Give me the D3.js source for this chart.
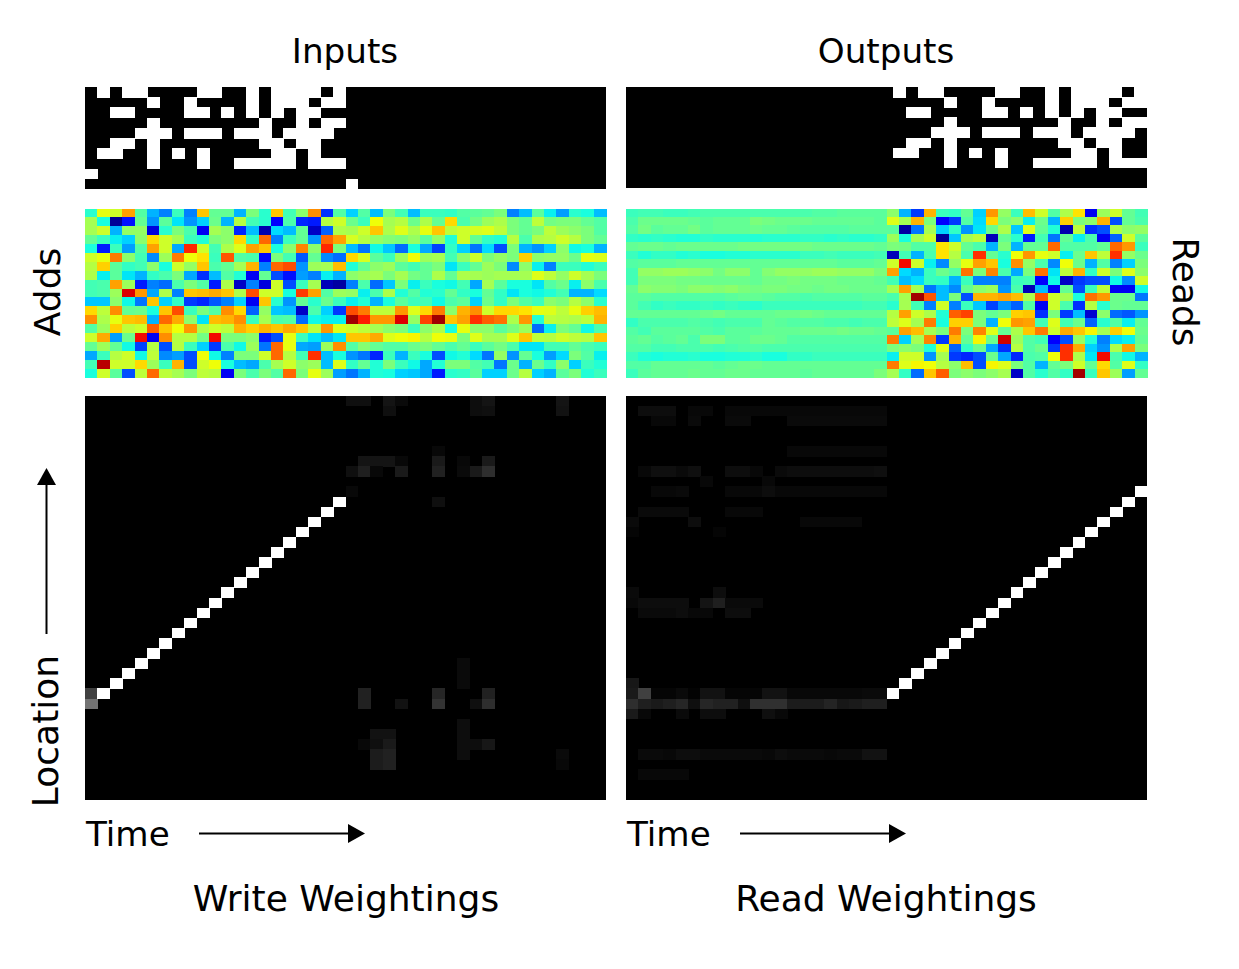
<!DOCTYPE html>
<html><head><meta charset="utf-8">
<script src="https://cdn.jsdelivr.net/npm/d3@7"></script>
<style>html,body{margin:0;padding:0;background:#fff}svg{display:block}text{font-family:"DejaVu Sans";fill:#000}</style>
</head><body><svg id="c" width="1239" height="969"></svg>
<script>
// Binary pattern: each row lists the columns that are on
const inputOn = [
 [1,3,4,9,10,13,15,16,17,18,20],
 [5,8,13,15,16,17,19,20],
 [2,3,8,9,11,13,15,17,18],
 [5,14,17,19,20],
 [4,5,6,8,9,10,12,13,14,16,17,18,19],
 [2,3,5,14,15,17,18],
 [1,2,5,7,9,15,16,18],
 [5,9,12,13,14,15,16,18,19,20],
 [0],
 [21]
];
const outputShift = 20, outputCols = 41, inputCols = 42, patternRows = 8;

const addsLeft = [
[.4,.63,.6,.74,.45,.3,.25,.42,.25,.7,.47,.47,.3,.5,.4,.7,.43,.52,.76,.17,.45],
[.55,.38,.02,.14,.47,.27,.46,.35,.27,.33,.48,.3,.57,.43,.4,.11,.44,.16,.15,.57,.6],
[.55,.6,.3,.53,.53,.08,.4,.5,.44,.1,.55,.52,.16,.31,.04,.34,.31,.47,.06,.22,.56],
[.47,.42,.36,.33,.52,.68,.6,.55,.42,.39,.5,.52,.68,.41,.8,.25,.42,.47,.27,.8,.74],
[.38,.15,.42,.28,.45,.74,.6,.29,.87,.6,.43,.56,.62,.74,.7,.38,.52,.77,.52,.87,.5],
[.6,.63,.78,.52,.43,.26,.54,.78,.64,.67,.42,.82,.45,.44,.13,.5,.43,.21,.47,.26,.23],
[.57,.69,.46,.41,.43,.52,.38,.6,.53,.7,.44,.47,.55,.72,.25,.8,.83,.27,.54,.55,.71],
[.56,.36,.46,.35,.3,.41,.44,.5,.29,.17,.31,.45,.39,.1,.47,.2,.14,.28,.25,.36,.3],
[.43,.44,.74,.54,.15,.25,.23,.44,.5,.45,.15,.56,.06,.25,.08,.6,.2,.42,.55,.05,.03],
[.43,.44,.54,.92,.75,.29,.56,.25,.7,.71,.73,.7,.56,.83,.6,.6,.38,.85,.74,.45,.54],
[.32,.32,.52,.37,.24,.7,.33,.41,.18,.16,.21,.25,.33,.1,.7,.4,.27,.47,.4,.48,.42],
[.68,.58,.76,.47,.48,.38,.7,.83,.42,.5,.45,.76,.68,.22,.53,.32,.31,.06,.44,.33,.18],
[.76,.56,.63,.7,.71,.3,.8,.73,.52,.35,.71,.72,.76,.42,.55,.44,.45,.23,.37,.36,.36],
[.45,.54,.69,.58,.6,.81,.7,.64,.75,.56,.6,.58,.72,.69,.72,.7,.73,.7,.58,.75,.62],
[.6,.73,.28,.48,.9,.1,.76,.57,.57,.49,.9,.5,.5,.52,.15,.2,.63,.42,.35,.31,.35],
[.47,.54,.47,.37,.19,.57,.2,.57,.42,.33,.18,.44,.37,.54,.24,.8,.63,.29,.28,.54,.76],
[.29,.42,.57,.6,.37,.58,.26,.28,.2,.64,.37,.25,.5,.5,.6,.8,.57,.43,.86,.31,.38],
[.43,.95,.6,.6,.68,.54,.42,.72,.2,.6,.64,.38,.31,.29,.44,.55,.6,.52,.54,.31,.62],
[.38,.6,.46,.2,.58,.8,.58,.55,.5,.58,.57,.1,.5,.44,.5,.45,.8,.5,.63,.54,.28]
];
const addsRight = [
[.33,.45,.31,.5,.43,.31,.42,.42,.41,.45,.46,.47,.5,.25,.31,.46,.36,.28,.4,.38,.31],
[.48,.42,.64,.55,.57,.48,.56,.47,.68,.44,.49,.54,.56,.5,.47,.58,.49,.5,.5,.47,.45],
[.55,.6,.7,.56,.62,.56,.63,.7,.58,.6,.61,.62,.58,.5,.47,.5,.58,.54,.52,.5,.45],
[.61,.57,.53,.51,.5,.53,.46,.53,.39,.6,.47,.41,.39,.57,.44,.56,.57,.6,.57,.5,.47],
[.31,.24,.37,.32,.23,.38,.29,.19,.41,.33,.24,.34,.2,.5,.3,.27,.33,.52,.37,.38,.3],
[.68,.61,.46,.42,.54,.64,.54,.55,.43,.52,.6,.5,.53,.5,.69,.52,.53,.53,.48,.63,.62],
[.39,.47,.52,.54,.46,.43,.47,.5,.35,.42,.47,.54,.5,.26,.52,.36,.25,.42,.42,.39,.42],
[.52,.54,.55,.5,.55,.49,.47,.56,.47,.56,.55,.54,.55,.55,.55,.62,.58,.53,.6,.55,.5],
[.25,.44,.23,.32,.5,.36,.42,.38,.37,.43,.29,.55,.46,.38,.38,.35,.45,.48,.36,.52,.44],
[.53,.36,.44,.56,.39,.45,.39,.4,.47,.41,.38,.47,.41,.35,.38,.37,.39,.43,.3,.3,.34],
[.36,.39,.3,.38,.46,.42,.43,.37,.44,.46,.33,.48,.41,.5,.45,.42,.52,.5,.57,.52,.4],
[.83,.78,.58,.58,.75,.62,.68,.78,.52,.72,.76,.6,.68,.68,.67,.63,.62,.58,.63,.69,.71],
[.97,.88,.75,.75,.92,.53,.84,.97,.7,.74,.86,.81,.79,.56,.75,.39,.58,.57,.56,.58,.72],
[.6,.58,.55,.52,.5,.42,.52,.56,.38,.63,.52,.52,.46,.5,.54,.23,.36,.5,.47,.37,.44],
[.7,.7,.73,.62,.64,.65,.57,.64,.63,.5,.62,.55,.55,.62,.7,.58,.57,.6,.58,.57,.7],
[.45,.51,.47,.45,.45,.48,.5,.47,.44,.47,.42,.46,.49,.44,.35,.35,.43,.43,.47,.44,.42],
[.27,.24,.16,.42,.3,.42,.38,.2,.37,.39,.34,.24,.53,.27,.47,.38,.28,.34,.5,.45,.36],
[.41,.47,.39,.5,.42,.37,.29,.39,.5,.5,.45,.43,.24,.48,.3,.48,.41,.52,.33,.42,.39],
[.24,.3,.39,.38,.33,.32,.29,.15,.4,.41,.46,.33,.33,.48,.57,.33,.3,.46,.5,.39,.42]
];
const readsLeft = [
[.42,.43,.43,.42,.42,.43,.44,.44,.44,.44,.44,.44,.44,.44,.44,.45,.45,.46,.46,.46,.46],
[.44,.48,.48,.48,.48,.47,.46,.47,.47,.47,.5,.49,.48,.48,.48,.47,.47,.47,.47,.47,.46],
[.45,.49,.46,.47,.47,.49,.46,.47,.47,.47,.48,.47,.47,.46,.45,.45,.45,.45,.46,.46,.46],
[.41,.4,.41,.4,.39,.39,.41,.4,.4,.4,.39,.4,.4,.4,.41,.41,.4,.41,.4,.4,.41],
[.47,.48,.48,.47,.48,.48,.48,.48,.48,.49,.49,.49,.49,.49,.49,.48,.48,.48,.48,.48,.47],
[.42,.39,.41,.41,.39,.4,.38,.38,.39,.39,.4,.4,.4,.4,.42,.42,.43,.42,.42,.42,.43],
[.45,.46,.46,.46,.47,.47,.47,.47,.47,.47,.47,.47,.47,.47,.47,.47,.47,.46,.46,.46,.47],
[.43,.53,.53,.54,.54,.53,.52,.49,.52,.52,.47,.51,.53,.53,.53,.54,.54,.53,.53,.53,.5],
[.43,.5,.5,.5,.49,.49,.48,.48,.48,.48,.47,.49,.49,.5,.49,.49,.49,.48,.48,.48,.47],
[.47,.52,.51,.51,.5,.52,.52,.51,.52,.5,.49,.5,.5,.49,.49,.48,.49,.49,.48,.48,.48],
[.46,.46,.45,.45,.45,.45,.45,.45,.46,.47,.47,.46,.45,.45,.44,.45,.45,.45,.45,.46,.46],
[.46,.43,.41,.42,.41,.41,.42,.41,.42,.41,.4,.42,.42,.42,.42,.42,.42,.42,.42,.43,.43],
[.47,.47,.47,.47,.47,.47,.48,.49,.47,.47,.47,.47,.48,.48,.49,.48,.47,.47,.47,.47,.47],
[.41,.44,.44,.44,.44,.45,.44,.43,.44,.44,.44,.47,.46,.45,.45,.45,.44,.44,.43,.44,.44],
[.45,.43,.46,.46,.46,.46,.45,.44,.46,.46,.46,.47,.47,.47,.48,.48,.48,.49,.48,.48,.47],
[.46,.47,.45,.46,.47,.44,.5,.5,.46,.46,.48,.48,.47,.45,.45,.45,.45,.45,.45,.45,.45],
[.45,.45,.43,.43,.44,.44,.44,.43,.44,.45,.45,.44,.44,.44,.44,.44,.44,.44,.44,.44,.44],
[.42,.39,.38,.39,.39,.4,.38,.38,.39,.39,.4,.38,.38,.41,.41,.42,.42,.42,.42,.42,.42],
[.45,.45,.47,.47,.47,.47,.47,.46,.47,.48,.48,.47,.47,.47,.47,.47,.47,.47,.47,.47,.47],
[.42,.46,.47,.47,.47,.48,.47,.47,.48,.48,.47,.47,.47,.47,.46,.47,.47,.47,.47,.47,.5]
];
const readsRight = [
[.52,.3,.18,.72,.42,.41,.47,.33,.75,.53,.42,.71,.6,.45,.56,.67,.1,.54,.6,.47,.43],
[.62,.55,.72,.5,.12,.18,.45,.34,.68,.5,.52,.36,.48,.3,.69,.5,.52,.72,.2,.47,.44],
[.46,.03,.24,.55,.33,.41,.27,.35,.48,.56,.32,.62,.47,.39,.04,.58,.17,.2,.56,.52,.53],
[.54,.38,.55,.6,.02,.32,.55,.58,.05,.47,.4,.15,.43,.24,.47,.36,.44,.1,.22,.6,.46],
[.5,.49,.45,.45,.67,.6,.47,.44,.3,.5,.3,.47,.47,.8,.45,.45,.45,.47,.8,.75,.42],
[.05,.43,.3,.44,.67,.57,.44,.86,.47,.4,.64,.75,.63,.6,.36,.48,.7,.58,.86,.53,.48],
[.6,.9,.6,.36,.26,.53,.63,.74,.7,.38,.76,.53,.44,.26,.64,.48,.3,.45,.25,.33,.5],
[.74,.34,.3,.42,.48,.45,.79,.5,.77,.44,.29,.5,.79,.35,.58,.72,.41,.6,.5,.62,.52],
[.43,.31,.34,.42,.41,.3,.42,.25,.25,.25,.42,.43,.12,.37,.06,.18,.2,.2,.37,.26,.6],
[.55,.74,.55,.24,.31,.26,.47,.52,.54,.27,.44,.05,.31,.1,.47,.2,.42,.58,.1,.1,.37],
[.44,.55,.97,.82,.31,.5,.2,.72,.72,.74,.71,.56,.82,.6,.55,.38,.79,.75,.48,.48,.24],
[.4,.55,.43,.25,.6,.25,.42,.32,.19,.27,.22,.45,.1,.6,.44,.17,.57,.4,.48,.47,.47],
[.57,.74,.6,.56,.39,.81,.84,.5,.47,.5,.69,.7,.17,.5,.18,.31,.07,.52,.23,.21,.27],
[.58,.62,.55,.78,.38,.69,.69,.5,.3,.64,.75,.74,.43,.62,.43,.48,.22,.4,.45,.36,.47],
[.46,.74,.71,.55,.5,.78,.5,.77,.62,.47,.56,.7,.78,.6,.73,.7,.65,.55,.69,.64,.48],
[.78,.33,.55,.77,.18,.72,.47,.65,.48,.93,.54,.45,.43,.12,.2,.53,.39,.25,.34,.36,.47],
[.5,.52,.5,.39,.62,.22,.41,.48,.29,.17,.57,.45,.48,.18,.86,.73,.33,.27,.56,.74,.5],
[.36,.6,.6,.27,.55,.18,.16,.2,.48,.29,.16,.44,.45,.64,.86,.56,.35,.9,.44,.37,.3],
[.78,.62,.65,.64,.57,.52,.71,.2,.65,.62,.5,.45,.3,.47,.5,.6,.47,.68,.45,.62,.41],
[.55,.41,.23,.7,.81,.5,.52,.5,.52,.55,.06,.45,.4,.45,.41,.97,.42,.7,.54,.28,.47]
];

// Weighting matrices: [location, time, weight]
const writePeak = [[29,0,.25],[30,0,.45],[29,1,1],[28,2,1],[27,3,1],[26,4,1],[25,5,1],[24,6,1],[23,7,1],[22,8,1],[21,9,1],[20,10,1],[19,11,1],[18,12,1],[17,13,1],[16,14,1],[15,15,1],[14,16,1],[13,17,1],[12,18,1],[11,19,1],[10,20,1]];
const writeFaint = [
[0,21,.06],[0,22,.06],[0,24,.08],[0,25,.04],[0,31,.05],[0,32,.08],[0,38,.08],
[1,24,.06],[1,31,.05],[1,32,.06],[1,38,.07],[5,28,.03],
[6,22,.08],[6,23,.08],[6,24,.08],[6,25,.03],[6,28,.1],[6,30,.03],[6,32,.1],
[7,21,.06],[7,22,.12],[7,23,.03],[7,25,.1],[7,28,.13],[7,30,.04],[7,31,.1],[7,32,.18],
[9,21,.03],[10,28,.06],
[26,30,.04],[27,30,.04],[28,30,.04],[29,22,.13],[29,28,.15],[29,32,.13],
[30,22,.13],[30,25,.07],[30,28,.2],[30,31,.06],[30,32,.18],
[32,30,.05],[33,23,.07],[33,24,.07],[33,30,.05],
[34,22,.03],[34,23,.06],[34,24,.1],[34,30,.05],[34,31,.05],[34,32,.09],
[35,23,.11],[35,24,.13],[35,30,.05],[35,38,.04],[36,23,.11],[36,24,.13],[36,38,.03]
];
const readPeak = [[29,21,1],[28,22,1],[27,23,1],[26,24,1],[25,25,1],[24,26,1],[23,27,1],[22,28,1],[21,29,1],[20,30,1],[19,31,1],[18,32,1],[17,33,1],[16,34,1],[15,35,1],[14,36,1],[13,37,1],[12,38,1],[11,39,1],[10,40,1],[9,41,1]];
const readBand29 = [.1,.25,.02,.02,.04,.01,.07,.07,.02,.02,.02,.07,.07,.03,.03,.03,.03,.03,.03,.04,.04];
const readBand30 = [.18,.12,.1,.12,.15,.06,.15,.13,.13,.06,.19,.19,.19,.11,.11,.11,.14,.09,.1,.12,.12];
const readBand35 = [0,.04,.04,.03,.05,.05,.04,.04,.04,.04,.04,.03,.05,.04,.04,.04,.03,.04,.04,.07,.07];
const readFaint = [
[1,1,.05],[1,2,.05],[1,3,.05],[1,5,.03],[1,6,.03],[1,8,.03],[1,9,.03],[1,10,.03],[1,11,.03],[1,12,.03],[1,13,.03],[1,14,.03],[1,15,.03],[1,16,.03],[1,17,.03],[1,18,.03],[1,19,.03],[1,20,.03],
[2,2,.03],[2,3,.03],[2,5,.04],[2,8,.04],[2,9,.04],[2,13,.04],[2,14,.04],[2,15,.04],[2,16,.04],[2,17,.04],[2,18,.04],[2,19,.04],[2,20,.04],
[5,13,.03],[5,14,.03],[5,15,.03],[5,16,.03],[5,17,.03],[5,18,.03],[5,19,.03],[5,20,.03],
[7,1,.03],[7,2,.06],[7,3,.06],[7,4,.04],[7,5,.06],[7,8,.05],[7,9,.05],[7,10,.03],[7,12,.04],[7,13,.05],[7,14,.05],[7,15,.05],[7,16,.05],[7,17,.05],[7,18,.05],[7,19,.05],[7,20,.06],
[8,6,.03],[8,11,.03],
[9,2,.03],[9,3,.03],[9,4,.04],[9,8,.03],[9,9,.03],[9,10,.03],[9,11,.05],[9,12,.03],[9,13,.03],[9,14,.03],[9,15,.03],[9,16,.03],[9,17,.03],[9,18,.03],[9,19,.03],[9,20,.03],
[11,1,.04],[11,2,.04],[11,3,.04],[11,4,.04],[11,8,.03],[11,9,.03],[11,10,.03],
[12,0,.04],[12,5,.05],[12,14,.03],[12,15,.03],[12,16,.03],[12,17,.03],[12,18,.03],[13,0,.02],[13,7,.02],
[19,0,.04],[19,7,.05],[20,0,.03],[20,1,.05],[20,2,.05],[20,3,.05],[20,4,.05],[20,6,.08],[20,7,.12],[20,8,.04],[20,9,.04],[20,10,.04],
[21,1,.04],[21,2,.04],[21,3,.04],[21,4,.05],[21,5,.03],[21,6,.03],[21,8,.05],[21,9,.05],
[28,0,.09],[31,0,.1],[31,1,.03],[31,4,.04],[31,6,.05],[31,7,.05],[31,11,.06],[31,12,.03],
[37,1,.03],[37,2,.03],[37,3,.03],[37,4,.03]
];

const titles = ["Inputs","Outputs"];
const footers = ["Write Weightings","Read Weightings"];
const timeLabel = "Time";
const weightCols = 42, weightRows = 40;

// ---------- drawing ----------
const svg = d3.select("#c");
const jetR = d3.scaleLinear([0,.35,.66,.89,1],[0,0,255,255,127]).clamp(true);
const jetG = d3.scaleLinear([0,.125,.375,.64,.91,1],[0,0,255,255,0,0]).clamp(true);
const jetB = d3.scaleLinear([0,.11,.34,.65,1],[127,255,255,0,0]).clamp(true);
const jet = v => `rgb(${jetR(v)},${jetG(v)},${jetB(v)})`;
const gray = d3.scaleLinear([0,1],["#000","#fff"]).clamp(true);

function panel(x0, x1, y0, y1, nCols, nRows, cells, color, bg){
  const x = d3.scaleBand(d3.range(nCols),[x0,x1]);
  const y = d3.scaleBand(d3.range(nRows),[y0,y1]);
  const g = svg.append("g").attr("shape-rendering","crispEdges");
  g.append("rect").attr("x",x0).attr("y",y0).attr("width",x1-x0).attr("height",y1-y0).attr("fill",bg);
  g.selectAll("rect.cell").data(cells).join("rect").attr("class","cell")
    .attr("x",d=>x(d[1])).attr("y",d=>y(d[0]))
    .attr("width",x.bandwidth()+.5).attr("height",y.bandwidth()+.5)
    .attr("fill",d=>color(d[2]));
}
const L=[85,606], R=[626,1147];

const inCells = inputOn.flatMap((cols,r)=>cols.map(c=>[r,c,1]));
panel(L[0],L[1],87,189,inputCols,10,inCells,gray,"#000");
const outCells = inputOn.slice(0,patternRows).flatMap((cols,r)=>cols.map(c=>[r,c+outputShift,1]));
panel(R[0],R[1],87,188,outputCols,10,outCells,gray,"#000");

const grid = (a,b)=>a.flatMap((row,r)=>row.concat(b[r]).map((v,c)=>[r,c,v]));
panel(L[0],L[1],208.5,377.5,42,addsLeft.length,grid(addsLeft,addsRight),jet,"#000");
panel(R[0],R[1],208.5,377.5,42,readsLeft.length,grid(readsLeft,readsRight),jet,"#000");

panel(L[0],L[1],395.5,799.5,weightCols,weightRows,writeFaint.concat(writePeak),gray,"#000");
const bands = [[29,readBand29],[30,readBand30],[35,readBand35]].flatMap(([r,a])=>a.map((v,c)=>[r,c,v]));
panel(R[0],R[1],395.5,799.5,weightCols,weightRows,readFaint.concat(bands,readPeak),gray,"#000");

function label(txt,x,y,size,rot,anchor="middle"){
  svg.append("text").attr("transform",`translate(${x},${y}) rotate(${rot||0})`)
    .attr("text-anchor",anchor).attr("font-size",size).text(txt);
}
const fs=36;
label(titles[0],345,63,fs*.95);
label(titles[1],886,63,fs*.95);
label(footers[0],346,911,fs);
label(footers[1],886,911,fs);
label(timeLabel,86,846,fs*.95,0,"start");
label(timeLabel,627,846,fs*.95,0,"start");
label("Adds",60,292,fs,-90);
label("Reads",1173,292,fs,90);
label("Location",58,731,fs,-90);

function arrow(x1,y1,x2,y2){
  const a=Math.atan2(y2-y1,x2-x1), h=17, w=9.5;
  const bx=x2-h*Math.cos(a), by=y2-h*Math.sin(a);
  svg.append("line").attr("x1",x1).attr("y1",y1).attr("x2",bx).attr("y2",by).attr("stroke","#000").attr("stroke-width",2);
  const nx=-Math.sin(a)*w, ny=Math.cos(a)*w;
  svg.append("path").attr("d",`M${x2},${y2}L${bx+nx},${by+ny}L${bx-nx},${by-ny}Z`).attr("fill","#000");
}
arrow(199,833.5,365,833.5);
arrow(740,833.5,906,833.5);
arrow(46.5,634,46.5,468);
</script></body></html>
